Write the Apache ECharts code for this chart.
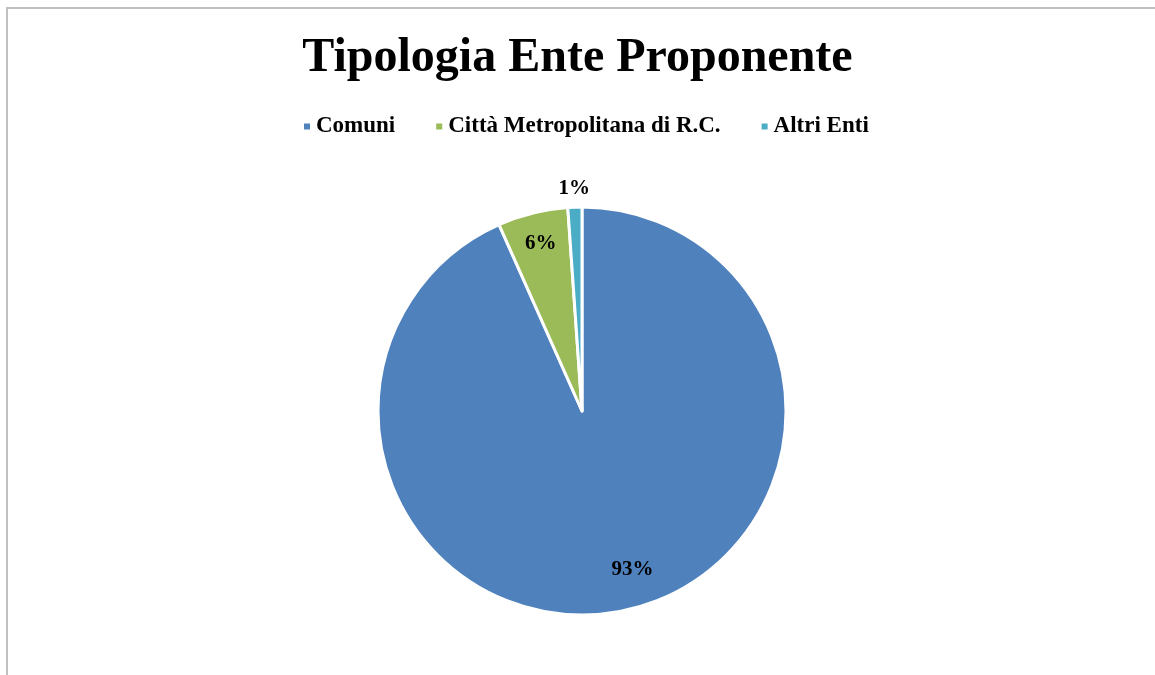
<!DOCTYPE html>
<html>
<head>
<meta charset="utf-8">
<script src="https://cdn.jsdelivr.net/npm/echarts@6/dist/echarts.min.js"></script>
<style>
html,body{margin:0;padding:0;background:#fff;}
#frame{position:absolute;left:6px;top:7px;width:1200px;height:720px;border-top:2px solid #c0c0c0;border-left:2px solid #c0c0c0;box-sizing:border-box;}
#chart{position:absolute;left:0;top:0;width:1155px;height:675px;}
</style>
</head>
<body>
<div id="frame"></div>
<div id="chart"></div>
<script>
const titleText = "Tipologia Ente Proponente";
const categories = ["Comuni", "Città Metropolitana di R.C.", "Altri Enti"];
const values = [84, 5, 1];
const percentLabels = ["93%", "6%", "1%"];
const colors = ["#4F81BD", "#9BBB59", "#4BACC6"];
const labelOffsets = [[15, -8], [0, -2], [0, 0]];

const font = "'Liberation Serif', 'DejaVu Serif', serif";
const CX = 582, CY = 411, R = 204;

const chart = echarts.init(document.getElementById('chart'));
const mkData = (labelFor) => categories.map((c, i) => ({
  name: c, value: values[i],
  label: { show: labelFor(i), formatter: percentLabels[i], offset: labelOffsets[i] }
}));
const labelStyle = { color: '#000', fontFamily: font, fontWeight: 'bold', fontSize: 21, position: 'inside' };
chart.setOption({
  animation: false,
  color: colors,
  title: {
    text: titleText, left: 'center', top: 30,
    textStyle: { fontFamily: font, fontWeight: 'bold', fontSize: 48, color: '#000' }
  },
  legend: {
    data: categories, top: 110, left: 297,
    icon: 'rect', itemWidth: 8, itemHeight: 8, itemGap: 39,
    textStyle: { fontFamily: font, fontWeight: 'bold', fontSize: 23, color: '#000' }
  },
  series: [
    {
      type: 'pie', center: [CX, CY], radius: [0, R], startAngle: 90, clockwise: true,
      data: mkData(() => false),
      label: { show: false }, labelLine: { show: false },
      itemStyle: { borderColor: '#fff', borderWidth: 3 },
      emphasis: { disabled: true }
    },
    {
      type: 'pie', center: [CX, CY], radius: [R * 0.64, R], startAngle: 90, clockwise: true,
      data: mkData(i => i < 2), silent: true,
      itemStyle: { color: 'rgba(0,0,0,0)' },
      label: labelStyle, labelLine: { show: false },
      emphasis: { disabled: true }
    },
    {
      type: 'pie', center: [CX, CY], radius: [R * 1.02, R * 1.13], startAngle: 90, clockwise: true,
      data: mkData(i => i === 2), silent: true,
      itemStyle: { color: 'rgba(0,0,0,0)' },
      label: labelStyle, labelLine: { show: false },
      emphasis: { disabled: true }
    }
  ]
});
</script>
</body>
</html>
